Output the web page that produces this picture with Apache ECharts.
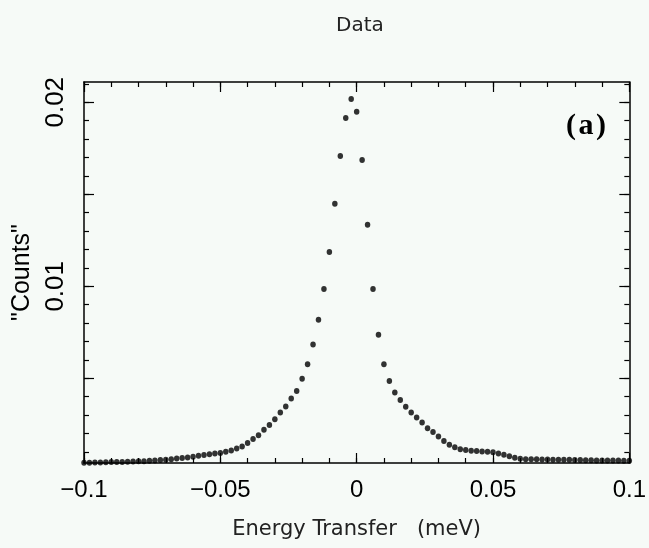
<!DOCTYPE html>
<html>
<head>
<meta charset="utf-8">
<title>Data</title>
<script src="https://cdn.jsdelivr.net/npm/echarts@6/dist/echarts.min.js"></script>
<style>
  html, body { margin: 0; padding: 0; background: #f6faf7; }
  #chart { width: 649px; height: 548px; }
</style>
</head>
<body>
<div id="chart"></div>
<script>
// Energy transfer grid (meV), one point every 0.002 meV
const energy = [
  -0.100, -0.098, -0.096, -0.094, -0.092, -0.090, -0.088, -0.086, -0.084, -0.082,
  -0.080, -0.078, -0.076, -0.074, -0.072, -0.070, -0.068, -0.066, -0.064, -0.062,
  -0.060, -0.058, -0.056, -0.054, -0.052, -0.050, -0.048, -0.046, -0.044, -0.042,
  -0.040, -0.038, -0.036, -0.034, -0.032, -0.030, -0.028, -0.026, -0.024, -0.022,
  -0.020, -0.018, -0.016, -0.014, -0.012, -0.010, -0.008, -0.006, -0.004, -0.002,
   0.000,
   0.002,  0.004,  0.006,  0.008,  0.010,  0.012,  0.014,  0.016,  0.018,  0.020,
   0.022,  0.024,  0.026,  0.028,  0.030,  0.032,  0.034,  0.036,  0.038,  0.040,
   0.042,  0.044,  0.046,  0.048,  0.050,  0.052,  0.054,  0.056,  0.058,  0.060,
   0.062,  0.064,  0.066,  0.068,  0.070,  0.072,  0.074,  0.076,  0.078,  0.080,
   0.082,  0.084,  0.086,  0.088,  0.090,  0.092,  0.094,  0.096,  0.098,  0.100
];

// Measured counts at each energy transfer
const counts = [
  0.00042, 0.00042, 0.00043, 0.00043, 0.00044, 0.00045, 0.00045, 0.00046, 0.00047, 0.00048,
  0.00049, 0.00050, 0.00052, 0.00054, 0.00056, 0.00058, 0.00061, 0.00065, 0.00067, 0.00070,
  0.00074, 0.00079, 0.00083, 0.00088, 0.00092, 0.00094, 0.00101, 0.00108, 0.00119, 0.00130,
  0.00148, 0.00170, 0.00191, 0.00220, 0.00247, 0.00278, 0.00314, 0.00347, 0.00390, 0.00431,
  0.00498, 0.00577, 0.00684, 0.00818, 0.00986, 0.01186, 0.01448, 0.01708, 0.01914, 0.02017,
  0.01948,
  0.01686, 0.01334, 0.00986, 0.00737, 0.00577, 0.00485, 0.00423, 0.00382, 0.00345, 0.00314,
  0.00287, 0.00260, 0.00229, 0.00209, 0.00184, 0.00160, 0.00139, 0.00125, 0.00115, 0.00110,
  0.00106, 0.00105, 0.00103, 0.00101, 0.00098, 0.00092, 0.00085, 0.00076, 0.00068, 0.00063,
  0.00061, 0.00060, 0.00060, 0.00059, 0.00059, 0.00058, 0.00058, 0.00057, 0.00057, 0.00056,
  0.00056, 0.00055, 0.00055, 0.00054, 0.00054, 0.00053, 0.00053, 0.00053, 0.00052, 0.00052
];

// Axis ticks and labels
const xLabelValues = [-0.1, -0.05, 0, 0.05, 0.1];
const yMinorTicks = [0.001, 0.002, 0.003, 0.004, 0.005, 0.006, 0.007, 0.008, 0.009, 0.010,
                     0.011, 0.012, 0.013, 0.014, 0.015, 0.016, 0.017, 0.018, 0.019, 0.020, 0.021];
const yMajorTicks = [0.005, 0.010, 0.015, 0.020];
const yLabelValues = [0.01, 0.02];

const X_MIN = -0.1, X_MAX = 0.1;
const Y_MIN = 0.0004, Y_MAX = 0.0211;

const ink = '#000';
const tickFont = 'Liberation Sans, Arial, Helvetica, sans-serif';
const plainFont = 'DejaVu Sans, sans-serif';

function fmtX(v) {
  const r = Math.round(v * 1000) / 1000;
  if (r === 0) return '0';
  const s = String(Math.abs(r));
  return (r < 0 ? '\u2212' : '') + s;
}

const chart = echarts.init(document.getElementById('chart'), null, { renderer: 'canvas' });

const points = energy.map((e, i) => [e, counts[i]]);

function xAxisBase(pos, interval, len, extra) {
  return Object.assign({
    type: 'value', gridIndex: 0, position: pos,
    min: X_MIN, max: X_MAX, interval: interval,
    axisLine: { show: false, onZero: false },
    axisTick: { show: true, inside: true, length: len, lineStyle: { color: ink, width: 1.2 } },
    axisLabel: { show: false },
    splitLine: { show: false }
  }, extra || {});
}

function yAxisBase(pos, ticks, len, extra) {
  return Object.assign({
    type: 'value', gridIndex: 0, position: pos,
    min: Y_MIN, max: Y_MAX,
    axisLine: { show: false, onZero: false },
    axisTick: { show: true, inside: true, length: len, customValues: ticks,
                lineStyle: { color: ink, width: 1.2 } },
    axisLabel: { show: false },
    splitLine: { show: false }
  }, extra || {});
}

const option = {
  backgroundColor: '#f6faf7',
  animation: false,
  grid: { left: 84, right: 13, top: 82, bottom: 85, containLabel: false },
  xAxis: [
    xAxisBase('bottom', 0.01, 5, {
      axisLine: { show: true, onZero: false, lineStyle: { color: ink, width: 1.5 } },
      axisLabel: {
        show: true, customValues: xLabelValues, formatter: fmtX,
        margin: 15, fontSize: 24, color: ink, fontFamily: tickFont
      },
      name: 'Energy Transfer   (meV)', nameLocation: 'middle', nameGap: 56,
      nameTextStyle: { fontFamily: plainFont, fontSize: 21, color: '#222' }
    }),
    xAxisBase('bottom', 0.05, 10),
    xAxisBase('top', 0.01, 5, {
      axisLine: { show: true, onZero: false, lineStyle: { color: ink, width: 1.5 } }
    }),
    xAxisBase('top', 0.05, 10)
  ],
  yAxis: [
    yAxisBase('left', yMinorTicks, 5, {
      axisLine: { show: true, onZero: false, lineStyle: { color: ink, width: 1.5 } },
      axisLabel: {
        show: true, customValues: yLabelValues, rotate: 90,
        formatter: v => String(Math.round(v * 1000) / 1000),
        margin: 15, fontSize: 26, color: ink, fontFamily: tickFont
      },
      name: '"Counts"', nameLocation: 'middle', nameGap: 48, nameRotate: 90,
      nameTextStyle: { fontFamily: tickFont, fontSize: 25, color: ink }
    }),
    yAxisBase('left', yMajorTicks, 10),
    yAxisBase('right', yMinorTicks, 5, {
      axisLine: { show: true, onZero: false, lineStyle: { color: ink, width: 1.5 } }
    }),
    yAxisBase('right', yMajorTicks, 10)
  ],
  series: [{
    type: 'scatter',
    xAxisIndex: 0, yAxisIndex: 0,
    data: points,
    symbol: 'circle',
    symbolSize: [5.5, 6],
    itemStyle: { color: '#000' },
    silent: true
  }],
  graphic: [
    {
      type: 'text',
      x: 360, y: 26,
      style: {
        text: 'Data',
        font: '20px "DejaVu Sans", sans-serif',
        fill: '#222',
        align: 'center', verticalAlign: 'middle'
      }
    },
    {
      type: 'text',
      x: 586, y: 126,
      style: {
        text: '(\u200Aa\u200A)',
        font: 'bold 30px "Liberation Serif", "Times New Roman", serif',
        fill: '#000',
        align: 'center', verticalAlign: 'middle'
      }
    }
  ]
};

chart.setOption(option);
</script>
</body>
</html>
